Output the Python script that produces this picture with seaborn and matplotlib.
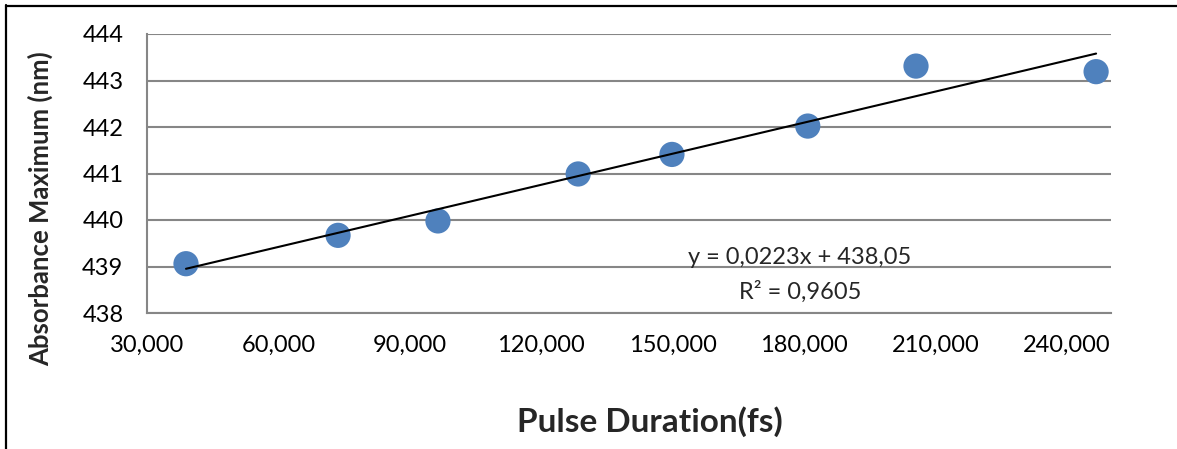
import numpy as np
import pandas as pd
import matplotlib
matplotlib.use('Agg')
import matplotlib.pyplot as plt
from matplotlib.lines import Line2D
from matplotlib.ticker import FuncFormatter
import seaborn as sns

# data (pulse duration in fs, absorbance max in nm)
pulse_fs = [38.9, 73.6, 96.4, 128.4, 149.8, 180.8, 205.5, 246.6]
abs_max = [439.06, 439.67, 439.98, 440.99, 441.41, 442.02, 443.31, 443.19]
x_ticks = [30, 60, 90, 120, 150, 180, 210, 240]
y_ticks = [438, 439, 440, 441, 442, 443, 444]
eq_text = "y = 0,0223x + 438,05"
r2_text = "R² = 0,9605"

df = pd.DataFrame({'pulse': pulse_fs, 'absmax': abs_max})

sns.set_style('white')
plt.rcParams['font.family'] = ['Lato', 'DejaVu Sans']

fig = plt.figure(figsize=(11.77, 4.49), dpi=100)
ax = fig.add_axes([147/1177, 1-313/449, 964/1177, 279/449])

grey = '#868686'
for yv in y_ticks:
    ax.axhline(yv, color=grey, lw=1.5, zorder=0)

# linear trendline between the first and last point
slope, icpt = np.polyfit(df['pulse'], df['absmax'], 1)
xs = np.array([df['pulse'].min(), df['pulse'].max()])
ax.plot(xs, slope*xs + icpt, color='black', lw=1.5, zorder=3)

sns.scatterplot(data=df, x='pulse', y='absmax', ax=ax, s=330,
                color='#4F81BD', edgecolor='none', zorder=2, clip_on=False)

ax.set_xlim(30, 250)
ax.set_ylim(438, 444)
ax.set_xticks(x_ticks)
ax.set_yticks(y_ticks)
ax.xaxis.set_major_formatter(FuncFormatter(lambda v, p: f"{v:.3f}".replace('.', ',')))
ax.tick_params(axis='both', length=0, labelsize=17, colors='black')
ax.tick_params(axis='x', pad=16)
ax.tick_params(axis='y', pad=17)

for s in ['top', 'right']:
    ax.spines[s].set_visible(False)
for s in ['left', 'bottom']:
    ax.spines[s].set_color(grey)
    ax.spines[s].set_linewidth(1.5)

ax.set_xlabel('Pulse Duration(fs)', fontsize=24, fontweight='bold', va='center')
ax.xaxis.set_label_coords(0.522, -0.39)
ax.set_ylabel('Absorbance Maximum (nm)', fontsize=18.5, fontweight='bold', va='center')
ax.yaxis.set_label_coords(-0.11, 0.375)

ax.text(800/1177, 1-258/449, eq_text, transform=fig.transFigure,
        ha='center', va='center', fontsize=17)
ax.text(800/1177, 1-292/449, r2_text, transform=fig.transFigure,
        ha='center', va='center', fontsize=17)

# outer frame (left and top edges only)
fig.add_artist(Line2D([5.5/1177, 5.5/1177], [0, 1-5/449], color='black', lw=1.6,
                      transform=fig.transFigure))
fig.add_artist(Line2D([5.5/1177, 1], [1-5.5/449, 1-5.5/449], color='black', lw=1.6,
                      transform=fig.transFigure))

fig.savefig('out.png', dpi=100)
